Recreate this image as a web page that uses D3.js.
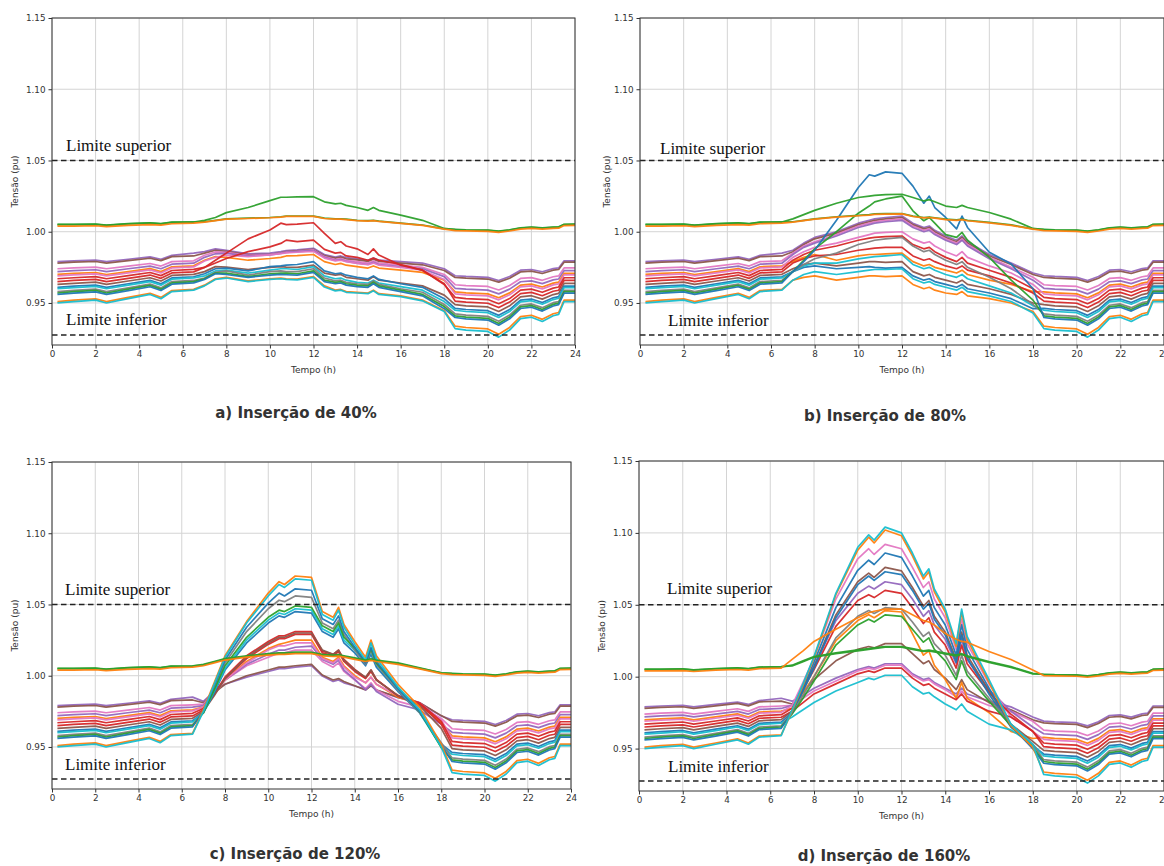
<!DOCTYPE html>
<html>
<head>
<meta charset="utf-8">
<script src="https://cdn.jsdelivr.net/npm/d3@7"></script>
<style>
  body { margin: 0; background: #fff; }
  svg { display: block; }
</style>
</head>
<body>
<svg id="fig" width="1164" height="866"></svg>
<script>
// ---- time axis (hours) ----
const hoursMorning = [0.25, 1, 2, 2.5, 3.5, 4.5, 5, 5.5, 6.5];
const hoursDay = [7, 7.5, 8, 9, 10, 10.5, 10.75, 11.25, 12, 12.5, 13, 13.25, 13.5, 14, 14.5, 14.75, 15, 16, 17, 18];
const hoursEvening = [18.5, 19, 20, 20.5, 21, 21.5, 22, 22.5, 23, 23.25, 23.5, 24];

const xTicks = [0, 2, 4, 6, 8, 10, 12, 14, 16, 18, 20, 22, 24];
const yTicks = [0.95, 1.00, 1.05, 1.10, 1.15];
const limitUpper = 1.05;
const limitLower = 0.9275;

// one colour per bus (16 feeder buses, then 3 buses near the substation)
const busColors = [
  "#9467bd", "#8c564b", "#e377c2", "#9467bd", "#ff7f0e", "#e377c2", "#d62728", "#d62728",
  "#8c564b", "#1f77b4", "#17becf", "#7f7f7f", "#2ca02c", "#1f77b4", "#ff7f0e", "#17becf",
  "#2ca02c", "#2ca02c", "#ff7f0e"
];

// bus voltages before sunrise (same for every PV level)
const morning = [
  [0.979, 0.9796, 0.9801, 0.979, 0.9807, 0.9823, 0.9807, 0.9834, 0.985],
  [0.978, 0.9786, 0.9791, 0.978, 0.9797, 0.9814, 0.9797, 0.9825, 0.983],
  [0.974, 0.9746, 0.9752, 0.974, 0.9759, 0.9777, 0.9759, 0.979, 0.9796],
  [0.972, 0.9727, 0.9733, 0.972, 0.974, 0.9759, 0.974, 0.9772, 0.9779],
  [0.970, 0.9707, 0.9714, 0.970, 0.972, 0.9741, 0.972, 0.9754, 0.9761],
  [0.969, 0.9697, 0.9704, 0.969, 0.9711, 0.9732, 0.9711, 0.9746, 0.9753],
  [0.967, 0.9677, 0.9685, 0.967, 0.9692, 0.9714, 0.9692, 0.9728, 0.9736],
  [0.965, 0.9658, 0.9665, 0.965, 0.9673, 0.9696, 0.9673, 0.9711, 0.9718],
  [0.963, 0.9638, 0.9646, 0.963, 0.9654, 0.9677, 0.9654, 0.9693, 0.9701],
  [0.961, 0.9618, 0.9626, 0.961, 0.9635, 0.9659, 0.9635, 0.9676, 0.9684],
  [0.960, 0.9608, 0.9617, 0.960, 0.9625, 0.965, 0.9625, 0.9667, 0.9676],
  [0.958, 0.9589, 0.9597, 0.958, 0.9606, 0.9632, 0.9606, 0.965, 0.9658],
  [0.957, 0.9579, 0.9588, 0.957, 0.9597, 0.9623, 0.9597, 0.9641, 0.965],
  [0.956, 0.9569, 0.9578, 0.956, 0.9587, 0.9614, 0.9587, 0.9632, 0.9641],
  [0.951, 0.952, 0.9529, 0.951, 0.9539, 0.9568, 0.9539, 0.9587, 0.9596],
  [0.950, 0.951, 0.952, 0.950, 0.953, 0.956, 0.953, 0.958, 0.959],
  [1.005, 1.005, 1.0052, 1.0045, 1.0055, 1.006, 1.0055, 1.0065, 1.0068],
  [1.0052, 1.0052, 1.0054, 1.0047, 1.0057, 1.0062, 1.0057, 1.0067, 1.007],
  [1.004, 1.004, 1.0042, 1.0036, 1.0045, 1.005, 1.0046, 1.0056, 1.006]
];

// bus voltages after sunset (same for every PV level)
const evening = [
  [0.9691, 0.9686, 0.968, 0.9658, 0.9686, 0.973, 0.9735, 0.9719, 0.9741, 0.9746, 0.9796, 0.9796],
  [0.9679, 0.9674, 0.9668, 0.9646, 0.9674, 0.9718, 0.9724, 0.9707, 0.973, 0.9735, 0.9786, 0.9786],
  [0.9628, 0.9622, 0.9616, 0.9591, 0.9622, 0.9672, 0.9678, 0.9659, 0.9684, 0.969, 0.9746, 0.9746],
  [0.9603, 0.9597, 0.959, 0.9564, 0.9597, 0.9649, 0.9655, 0.9636, 0.9662, 0.9668, 0.9727, 0.9727],
  [0.9578, 0.9571, 0.9564, 0.9537, 0.9571, 0.9625, 0.9632, 0.9612, 0.9639, 0.9646, 0.9707, 0.9707],
  [0.9564, 0.9557, 0.955, 0.9522, 0.9557, 0.9613, 0.962, 0.9599, 0.9627, 0.9634, 0.9697, 0.9697],
  [0.9539, 0.9531, 0.9524, 0.9495, 0.9531, 0.959, 0.9597, 0.9575, 0.9604, 0.9612, 0.9677, 0.9677],
  [0.9513, 0.9506, 0.9498, 0.9468, 0.9506, 0.9566, 0.9574, 0.9551, 0.9582, 0.9589, 0.9658, 0.9658],
  [0.9488, 0.948, 0.9472, 0.944, 0.948, 0.9543, 0.9551, 0.9527, 0.9559, 0.9567, 0.9638, 0.9638],
  [0.9462, 0.9454, 0.9446, 0.9413, 0.9454, 0.952, 0.9528, 0.9503, 0.9536, 0.9544, 0.9618, 0.9618],
  [0.9449, 0.944, 0.9432, 0.9398, 0.944, 0.9508, 0.9516, 0.9491, 0.9524, 0.9533, 0.9608, 0.9608],
  [0.9423, 0.9415, 0.9406, 0.9371, 0.9415, 0.9484, 0.9493, 0.9467, 0.9502, 0.951, 0.9589, 0.9589],
  [0.941, 0.9401, 0.9392, 0.9356, 0.9401, 0.9472, 0.9481, 0.9454, 0.949, 0.9499, 0.9579, 0.9579],
  [0.9398, 0.9389, 0.938, 0.9344, 0.9389, 0.9461, 0.947, 0.9443, 0.9479, 0.9488, 0.9569, 0.9569],
  [0.9337, 0.9328, 0.9318, 0.928, 0.9328, 0.9404, 0.9414, 0.9385, 0.9424, 0.9433, 0.952, 0.952],
  [0.932, 0.931, 0.930, 0.926, 0.931, 0.939, 0.940, 0.937, 0.941, 0.942, 0.951, 0.951],
  [1.0015, 1.0012, 1.001, 1.0003, 1.0012, 1.0025, 1.003, 1.0025, 1.003, 1.0032, 1.005, 1.0052],
  [1.0017, 1.0014, 1.0012, 1.0005, 1.0014, 1.0027, 1.0032, 1.0027, 1.0032, 1.0034, 1.0052, 1.0054],
  [1.0008, 1.0006, 1.0003, 0.9996, 1.0005, 1.0018, 1.0023, 1.0018, 1.0023, 1.0025, 1.0043, 1.0045]
];

// daytime voltages, PV insertion 40 %
const day40 = [
  [0.986, 0.988, 0.987, 0.9845, 0.985, 0.986, 0.9868, 0.9872, 0.9884, 0.984, 0.9822, 0.983, 0.9818, 0.981, 0.980, 0.9815, 0.980, 0.979, 0.978, 0.974],
  [0.985, 0.987, 0.9862, 0.9838, 0.9842, 0.9852, 0.986, 0.9865, 0.9876, 0.9832, 0.9815, 0.9822, 0.981, 0.9802, 0.9792, 0.9807, 0.9792, 0.978, 0.9768, 0.9728],
  [0.9835, 0.9858, 0.9855, 0.9835, 0.984, 0.985, 0.9858, 0.9862, 0.9872, 0.9825, 0.9805, 0.9812, 0.980, 0.979, 0.978, 0.9795, 0.978, 0.9765, 0.975, 0.970],
  [0.982, 0.9845, 0.9848, 0.983, 0.9838, 0.9848, 0.9855, 0.986, 0.9868, 0.982, 0.9798, 0.9805, 0.9792, 0.978, 0.977, 0.9785, 0.977, 0.9755, 0.974, 0.9685],
  [0.980, 0.9825, 0.982, 0.980, 0.9812, 0.982, 0.983, 0.9832, 0.984, 0.979, 0.977, 0.9778, 0.9765, 0.9755, 0.9745, 0.976, 0.9745, 0.973, 0.9715, 0.966],
  [0.9795, 0.982, 0.9835, 0.9825, 0.9838, 0.9846, 0.9852, 0.9856, 0.9862, 0.9815, 0.9795, 0.980, 0.979, 0.9778, 0.9768, 0.978, 0.9765, 0.975, 0.973, 0.9665],
  [0.975, 0.980, 0.985, 0.995, 1.0012, 1.006, 1.005, 1.0054, 1.0063, 0.9988, 0.9918, 0.993, 0.990, 0.988, 0.984, 0.988, 0.9836, 0.9765, 0.973, 0.963],
  [0.975, 0.978, 0.9812, 0.986, 0.9894, 0.9918, 0.9941, 0.993, 0.9941, 0.9876, 0.985, 0.9855, 0.983, 0.982, 0.980, 0.9815, 0.980, 0.977, 0.973, 0.9635],
  [0.972, 0.9755, 0.9752, 0.9735, 0.975, 0.9755, 0.9752, 0.975, 0.9765, 0.971, 0.9695, 0.970, 0.968, 0.967, 0.966, 0.9685, 0.966, 0.964, 0.962, 0.9555],
  [0.9705, 0.974, 0.9745, 0.9725, 0.9755, 0.976, 0.9765, 0.977, 0.979, 0.9725, 0.9705, 0.971, 0.9695, 0.968, 0.967, 0.969, 0.9665, 0.9635, 0.961, 0.953],
  [0.969, 0.9725, 0.973, 0.971, 0.973, 0.974, 0.974, 0.9735, 0.9755, 0.969, 0.967, 0.9675, 0.966, 0.9645, 0.964, 0.966, 0.964, 0.9615, 0.959, 0.951],
  [0.9675, 0.9715, 0.9725, 0.9695, 0.972, 0.9725, 0.972, 0.972, 0.974, 0.9675, 0.9655, 0.966, 0.9645, 0.9635, 0.963, 0.9655, 0.963, 0.960, 0.9575, 0.949],
  [0.967, 0.971, 0.971, 0.9685, 0.9705, 0.971, 0.971, 0.9705, 0.9725, 0.966, 0.9645, 0.965, 0.9635, 0.9625, 0.962, 0.9645, 0.962, 0.959, 0.956, 0.9475],
  [0.9665, 0.9705, 0.970, 0.968, 0.9695, 0.970, 0.9698, 0.9695, 0.9715, 0.965, 0.9635, 0.964, 0.9625, 0.9615, 0.961, 0.9635, 0.961, 0.958, 0.955, 0.946],
  [0.9625, 0.967, 0.968, 0.9655, 0.967, 0.9675, 0.967, 0.9668, 0.9685, 0.962, 0.959, 0.9595, 0.958, 0.9575, 0.957, 0.959, 0.9565, 0.955, 0.952, 0.9445],
  [0.962, 0.9665, 0.9675, 0.965, 0.9665, 0.967, 0.9665, 0.9662, 0.968, 0.9612, 0.9585, 0.959, 0.9575, 0.957, 0.9565, 0.9585, 0.956, 0.9545, 0.9515, 0.944],
  [1.008, 1.010, 1.0134, 1.017, 1.0218, 1.0242, 1.0242, 1.0245, 1.0246, 1.021, 1.0195, 1.020, 1.0185, 1.017, 1.015, 1.017, 1.015, 1.0117, 1.008, 1.0023],
  [1.007, 1.008, 1.009, 1.0095, 1.010, 1.0105, 1.011, 1.011, 1.011, 1.0095, 1.009, 1.009, 1.0088, 1.008, 1.0078, 1.008, 1.0075, 1.006, 1.0047, 1.002],
  [1.0068, 1.0078, 1.0088, 1.0093, 1.0098, 1.0103, 1.0108, 1.0108, 1.0108, 1.0093, 1.0088, 1.0088, 1.0085, 1.0078, 1.0075, 1.0078, 1.0072, 1.0058, 1.0045, 1.0018]
];

// daytime voltages, PV insertion 80 %
const day80 = [
  [0.987, 0.992, 0.996, 1.000, 1.006, 1.008, 1.009, 1.010, 1.011, 1.006, 1.003, 1.004, 1.001, 0.997, 0.994, 0.997, 0.993, 0.984, 0.978, 0.971],
  [0.986, 0.991, 0.995, 0.999, 1.005, 1.007, 1.008, 1.009, 1.010, 1.005, 1.002, 1.003, 1.000, 0.996, 0.993, 0.996, 0.992, 0.983, 0.977, 0.970],
  [0.985, 0.990, 0.993, 0.998, 1.004, 1.006, 1.007, 1.008, 1.009, 1.004, 1.001, 1.002, 0.999, 0.995, 0.992, 0.995, 0.991, 0.982, 0.975, 0.968],
  [0.984, 0.989, 0.992, 0.997, 1.003, 1.005, 1.006, 1.007, 1.008, 1.003, 1.000, 1.001, 0.998, 0.994, 0.991, 0.994, 0.990, 0.981, 0.974, 0.966],
  [0.979, 0.982, 0.984, 0.980, 0.983, 0.984, 0.984, 0.9845, 0.985, 0.979, 0.976, 0.977, 0.975, 0.973, 0.971, 0.973, 0.970, 0.966, 0.963, 0.958],
  [0.982, 0.986, 0.989, 0.992, 0.996, 0.998, 0.999, 0.9995, 1.000, 0.995, 0.992, 0.993, 0.990, 0.986, 0.983, 0.986, 0.982, 0.976, 0.971, 0.963],
  [0.980, 0.984, 0.987, 0.990, 0.994, 0.9955, 0.996, 0.9965, 0.997, 0.991, 0.988, 0.989, 0.986, 0.982, 0.979, 0.982, 0.978, 0.973, 0.968, 0.960],
  [0.978, 0.981, 0.983, 0.984, 0.987, 0.988, 0.9885, 0.989, 0.989, 0.983, 0.980, 0.981, 0.979, 0.976, 0.974, 0.976, 0.973, 0.969, 0.964, 0.957],
  [0.974, 0.977, 0.978, 0.976, 0.978, 0.979, 0.979, 0.9785, 0.979, 0.972, 0.969, 0.970, 0.968, 0.966, 0.964, 0.966, 0.963, 0.960, 0.956, 0.950],
  [0.972, 0.975, 0.976, 0.974, 0.975, 0.9755, 0.975, 0.9745, 0.975, 0.969, 0.966, 0.967, 0.965, 0.963, 0.961, 0.963, 0.960, 0.957, 0.953, 0.946],
  [0.972, 0.976, 0.978, 0.978, 0.981, 0.982, 0.9825, 0.983, 0.984, 0.977, 0.974, 0.975, 0.973, 0.970, 0.968, 0.970, 0.967, 0.962, 0.957, 0.948],
  [0.972, 0.977, 0.981, 0.985, 0.991, 0.993, 0.994, 0.995, 0.996, 0.990, 0.986, 0.987, 0.984, 0.980, 0.977, 0.979, 0.975, 0.968, 0.960, 0.949],
  [0.972, 0.980, 0.988, 1.000, 1.013, 1.018, 1.021, 1.023, 1.025, 1.0147, 1.0077, 1.010, 1.006, 0.998, 0.996, 0.9995, 0.994, 0.982, 0.966, 0.952],
  [0.972, 0.979, 0.987, 1.008, 1.031, 1.040, 1.039, 1.042, 1.041, 1.032, 1.020, 1.025, 1.017, 1.010, 1.002, 1.011, 1.003, 0.9856, 0.9774, 0.960],
  [0.966, 0.968, 0.969, 0.966, 0.968, 0.969, 0.969, 0.9685, 0.969, 0.963, 0.960, 0.961, 0.959, 0.957, 0.956, 0.958, 0.955, 0.953, 0.950, 0.944],
  [0.966, 0.970, 0.972, 0.970, 0.972, 0.973, 0.9735, 0.9735, 0.974, 0.967, 0.964, 0.965, 0.963, 0.961, 0.959, 0.961, 0.958, 0.955, 0.951, 0.943],
  [1.009, 1.012, 1.015, 1.020, 1.024, 1.025, 1.0255, 1.026, 1.0263, 1.024, 1.0216, 1.0225, 1.021, 1.018, 1.017, 1.0185, 1.017, 1.0135, 1.0088, 1.0023],
  [1.007, 1.008, 1.009, 1.0105, 1.0115, 1.012, 1.0125, 1.0127, 1.0128, 1.011, 1.010, 1.0103, 1.0098, 1.0088, 1.0083, 1.0088, 1.008, 1.0065, 1.0048, 1.002],
  [1.0068, 1.0078, 1.0088, 1.0102, 1.0112, 1.0117, 1.0122, 1.0124, 1.0125, 1.0107, 1.0097, 1.010, 1.0095, 1.0085, 1.008, 1.0085, 1.0077, 1.0062, 1.0045, 1.0018]
];

// daytime voltages, PV insertion 120 %
const day120 = [
  [0.982, 0.989, 0.994, 0.999, 1.003, 1.005, 1.005, 1.006, 1.007, 0.9998, 0.996, 0.997, 0.995, 0.9928, 0.9904, 0.993, 0.990, 0.9846, 0.981, 0.9717],
  [0.981, 0.988, 0.994, 1.000, 1.004, 1.006, 1.006, 1.007, 1.008, 1.0005, 0.997, 0.998, 0.996, 0.993, 0.990, 0.993, 0.990, 0.985, 0.981, 0.972],
  [0.980, 0.989, 0.997, 1.007, 1.013, 1.016, 1.016, 1.018, 1.018, 1.010, 1.006, 1.009, 1.003, 0.997, 0.991, 0.995, 0.990, 0.982, 0.978, 0.970],
  [0.979, 0.988, 0.997, 1.008, 1.015, 1.018, 1.018, 1.020, 1.0208, 1.0114, 1.008, 1.011, 1.004, 0.9974, 0.990, 0.994, 0.989, 0.980, 0.976, 0.966],
  [0.978, 0.987, 0.997, 1.010, 1.019, 1.022, 1.023, 1.025, 1.025, 1.013, 1.010, 1.013, 1.007, 1.000, 0.995, 0.999, 0.994, 0.985, 0.980, 0.967],
  [0.978, 0.987, 0.997, 1.009, 1.018, 1.021, 1.021, 1.023, 1.023, 1.012, 1.009, 1.012, 1.006, 0.999, 0.995, 0.999, 0.994, 0.986, 0.981, 0.969],
  [0.977, 0.987, 0.998, 1.012, 1.022, 1.026, 1.026, 1.029, 1.029, 1.016, 1.014, 1.017, 1.010, 1.003, 0.998, 1.003, 0.997, 0.986, 0.981, 0.968],
  [0.976, 0.987, 0.999, 1.014, 1.024, 1.028, 1.028, 1.031, 1.031, 1.0173, 1.015, 1.018, 1.0114, 1.0044, 0.9986, 1.004, 0.9974, 0.9857, 0.980, 0.966],
  [0.975, 0.986, 0.998, 1.013, 1.023, 1.027, 1.027, 1.030, 1.030, 1.018, 1.015, 1.018, 1.011, 1.004, 0.999, 1.004, 0.997, 0.986, 0.979, 0.963],
  [0.974, 0.988, 1.004, 1.023, 1.037, 1.042, 1.041, 1.045, 1.044, 1.031, 1.027, 1.033, 1.023, 1.016, 1.007, 1.015, 1.006, 0.989, 0.974, 0.952],
  [0.974, 0.989, 1.005, 1.025, 1.039, 1.044, 1.043, 1.047, 1.046, 1.033, 1.029, 1.035, 1.025, 1.018, 1.009, 1.017, 1.008, 0.990, 0.974, 0.950],
  [0.974, 0.991, 1.009, 1.031, 1.047, 1.053, 1.052, 1.056, 1.055, 1.037, 1.033, 1.039, 1.029, 1.018, 1.008, 1.018, 1.008, 0.990, 0.974, 0.953],
  [0.974, 0.990, 1.007, 1.027, 1.041, 1.046, 1.045, 1.049, 1.048, 1.035, 1.031, 1.037, 1.027, 1.0196, 1.010, 1.019, 1.009, 0.9916, 0.975, 0.9495],
  [0.975, 0.993, 1.011, 1.034, 1.051, 1.058, 1.056, 1.061, 1.060, 1.040, 1.036, 1.042, 1.031, 1.020, 1.009, 1.020, 1.010, 0.991, 0.975, 0.951],
  [0.976, 0.995, 1.014, 1.038, 1.058, 1.066, 1.064, 1.070, 1.069, 1.045, 1.041, 1.048, 1.036, 1.024, 1.013, 1.025, 1.014, 0.994, 0.978, 0.952],
  [0.975, 0.994, 1.013, 1.037, 1.056, 1.064, 1.062, 1.068, 1.067, 1.043, 1.039, 1.046, 1.034, 1.022, 1.011, 1.023, 1.012, 0.992, 0.976, 0.950],
  [1.008, 1.010, 1.012, 1.014, 1.0155, 1.016, 1.016, 1.0165, 1.0165, 1.015, 1.0145, 1.0148, 1.014, 1.0125, 1.011, 1.0118, 1.011, 1.009, 1.0056, 1.002],
  [1.0075, 1.0095, 1.0115, 1.0135, 1.015, 1.0155, 1.0155, 1.016, 1.016, 1.0145, 1.014, 1.0143, 1.0135, 1.012, 1.0105, 1.0113, 1.0105, 1.0085, 1.0052, 1.002],
  [1.007, 1.009, 1.011, 1.013, 1.0145, 1.015, 1.015, 1.0155, 1.0155, 1.014, 1.0135, 1.0138, 1.013, 1.0115, 1.010, 1.0108, 1.010, 1.008, 1.0048, 1.0015]
];

// daytime voltages, PV insertion 160 %
const day160 = [
  [0.983, 0.987, 0.992, 0.999, 1.005, 1.007, 1.006, 1.009, 1.009, 1.002, 0.998, 0.999, 0.996, 0.992, 0.988, 0.992, 0.988, 0.983, 0.979, 0.972],
  [0.981, 0.989, 0.998, 1.011, 1.019, 1.021, 1.020, 1.023, 1.023, 1.016, 1.009, 1.011, 1.005, 0.999, 0.991, 0.998, 0.991, 0.982, 0.977, 0.970],
  [0.980, 0.985, 0.990, 0.997, 1.004, 1.006, 1.005, 1.008, 1.008, 1.001, 0.997, 0.998, 0.995, 0.991, 0.986, 0.990, 0.986, 0.980, 0.976, 0.969],
  [0.980, 0.993, 1.007, 1.039, 1.058, 1.063, 1.061, 1.066, 1.064, 1.054, 1.042, 1.046, 1.036, 1.026, 1.009, 1.026, 1.012, 0.991, 0.976, 0.965],
  [0.978, 0.989, 1.000, 1.025, 1.039, 1.043, 1.041, 1.046, 1.045, 1.030, 1.015, 1.018, 1.008, 0.998, 0.985, 0.996, 0.985, 0.975, 0.962, 0.957],
  [0.980, 0.996, 1.013, 1.054, 1.082, 1.089, 1.085, 1.092, 1.089, 1.076, 1.062, 1.066, 1.054, 1.041, 1.019, 1.040, 1.023, 0.995, 0.972, 0.962],
  [0.978, 0.991, 1.005, 1.035, 1.053, 1.057, 1.055, 1.060, 1.058, 1.048, 1.037, 1.041, 1.031, 1.022, 1.006, 1.022, 1.009, 0.989, 0.974, 0.962],
  [0.976, 0.982, 0.988, 0.995, 1.002, 1.004, 1.003, 1.006, 1.006, 0.999, 0.994, 0.995, 0.992, 0.988, 0.984, 0.988, 0.983, 0.976, 0.972, 0.962],
  [0.976, 0.991, 1.007, 1.043, 1.066, 1.072, 1.069, 1.076, 1.0736, 1.062, 1.049, 1.053, 1.042, 1.031, 1.012, 1.031, 1.015, 0.990, 0.967, 0.955],
  [0.975, 0.990, 1.006, 1.041, 1.064, 1.070, 1.067, 1.073, 1.071, 1.060, 1.047, 1.051, 1.040, 1.029, 1.010, 1.029, 1.013, 0.988, 0.965, 0.952],
  [0.972, 0.977, 0.982, 0.990, 0.996, 0.999, 0.998, 1.001, 1.001, 0.993, 0.988, 0.989, 0.986, 0.981, 0.977, 0.981, 0.976, 0.967, 0.963, 0.953],
  [0.975, 0.987, 1.000, 1.027, 1.042, 1.046, 1.044, 1.048, 1.047, 1.038, 1.028, 1.031, 1.023, 1.015, 1.001, 1.015, 1.004, 0.985, 0.967, 0.953],
  [0.974, 0.985, 0.997, 1.022, 1.036, 1.040, 1.038, 1.043, 1.042, 1.033, 1.024, 1.027, 1.019, 1.011, 0.998, 1.011, 1.001, 0.983, 0.966, 0.951],
  [0.975, 0.992, 1.010, 1.048, 1.074, 1.081, 1.078, 1.086, 1.083, 1.070, 1.056, 1.060, 1.048, 1.036, 1.015, 1.036, 1.019, 0.992, 0.966, 0.950],
  [0.976, 0.994, 1.013, 1.057, 1.088, 1.097, 1.093, 1.102, 1.098, 1.084, 1.068, 1.073, 1.059, 1.045, 1.021, 1.045, 1.026, 0.996, 0.966, 0.951],
  [0.977, 0.995, 1.014, 1.058, 1.090, 1.0986, 1.095, 1.104, 1.100, 1.086, 1.070, 1.075, 1.061, 1.047, 1.023, 1.047, 1.028, 0.998, 0.967, 0.953],
  [1.008, 1.011, 1.014, 1.0165, 1.0187, 1.0195, 1.020, 1.021, 1.021, 1.0195, 1.018, 1.0185, 1.0178, 1.0164, 1.015, 1.016, 1.0145, 1.0105, 1.007, 1.0023],
  [1.0075, 1.0105, 1.0135, 1.016, 1.018, 1.019, 1.0195, 1.0205, 1.0205, 1.019, 1.0175, 1.018, 1.0172, 1.0158, 1.0145, 1.0155, 1.014, 1.010, 1.0065, 1.002],
  [1.012, 1.018, 1.0245, 1.033, 1.041, 1.0445, 1.0455, 1.047, 1.047, 1.043, 1.039, 1.038, 1.036, 1.030, 1.026, 1.0245, 1.024, 1.0175, 1.012, 1.0047]
];

const panelTitles = ["a) Inserção de 40%", "b) Inserção de 80%", "c) Inserção de 120%", "d) Inserção de 160%"];
const panelDays = [day40, day80, day120, day160];

// page placement of each subplot
const frames = [
  { left: 52,  right: 575,  top: 18,  bottom: 345, titleX: 296, titleY: 418, ylabX: 18,  supX: 66,  supY: 151, infX: 66,  infY: 325 },
  { left: 640, right: 1164, top: 18,  bottom: 345, titleX: 885, titleY: 421, ylabX: 610, supX: 660, supY: 154, infX: 668, infY: 326 },
  { left: 52,  right: 571,  top: 462, bottom: 789, titleX: 295, titleY: 859, ylabX: 18,  supX: 65,  supY: 595, infX: 65,  infY: 770 },
  { left: 639, right: 1164, top: 461, bottom: 791, titleX: 884, titleY: 861, ylabX: 605, supX: 667, supY: 594, infX: 668, infY: 772 }
];

const hours = hoursMorning.concat(hoursDay, hoursEvening);
const svg = d3.select("#fig");
const tickFont = "'DejaVu Sans', sans-serif";

frames.forEach((f, p) => {
  const x = d3.scaleLinear().domain([0, 24]).range([f.left, f.right]);
  const y = d3.scaleLinear().domain([0.9205, 1.15]).range([f.bottom, f.top]);
  const g = svg.append("g");

  const clipId = "clip" + p;
  g.append("clipPath").attr("id", clipId).append("rect")
    .attr("x", f.left).attr("y", f.top)
    .attr("width", f.right - f.left).attr("height", f.bottom - f.top);

  // grid
  g.append("g").selectAll("line").data(xTicks).join("line")
    .attr("x1", d => x(d)).attr("x2", d => x(d))
    .attr("y1", f.top).attr("y2", f.bottom)
    .attr("stroke", "#d4d4d4").attr("stroke-width", 1);
  g.append("g").selectAll("line").data(yTicks).join("line")
    .attr("x1", f.left).attr("x2", f.right)
    .attr("y1", d => y(d)).attr("y2", d => y(d))
    .attr("stroke", "#d4d4d4").attr("stroke-width", 1);

  // bus voltage curves
  const day = panelDays[p];
  const series = morning.map((m, i) => m.concat(day[i], evening[i]).map((v, k) => [hours[k], v]));
  const line = d3.line().x(d => x(d[0])).y(d => y(d[1]));
  g.append("g").attr("clip-path", `url(#${clipId})`)
    .selectAll("path").data(series).join("path")
    .attr("d", line)
    .attr("fill", "none")
    .attr("stroke", (d, i) => busColors[i])
    .attr("stroke-width", 1.7)
    .attr("stroke-linejoin", "round")
    .attr("stroke-opacity", 0.95);

  // voltage limits
  [limitUpper, limitLower].forEach(v => {
    g.append("line")
      .attr("x1", f.left).attr("x2", f.right)
      .attr("y1", y(v)).attr("y2", y(v))
      .attr("stroke", "#222").attr("stroke-width", 1.5)
      .attr("stroke-dasharray", "5.5,3.5");
  });

  // frame
  g.append("rect")
    .attr("x", f.left).attr("y", f.top)
    .attr("width", f.right - f.left).attr("height", f.bottom - f.top)
    .attr("fill", "none").attr("stroke", "#333").attr("stroke-width", 1);

  // axes
  const ax = g.append("g").attr("transform", `translate(0,${f.bottom})`)
    .call(d3.axisBottom(x).tickValues(xTicks).tickSize(3.5).tickPadding(2.5).tickFormat(d3.format("d")));
  const ay = g.append("g").attr("transform", `translate(${f.left},0)`)
    .call(d3.axisLeft(y).tickValues(yTicks).tickSize(3.5).tickPadding(3).tickFormat(d3.format(".2f")));
  [ax, ay].forEach(a => {
    a.select(".domain").remove();
    a.selectAll(".tick line").attr("stroke", "#333");
    a.selectAll("text").attr("font-family", tickFont).attr("font-size", 8.8).attr("fill", "#333");
  });

  // axis titles
  g.append("text")
    .attr("x", (f.left + f.right) / 2).attr("y", f.bottom + 28)
    .attr("text-anchor", "middle")
    .attr("font-family", tickFont).attr("font-size", 9).attr("fill", "#333")
    .text("Tempo (h)");
  g.append("text")
    .attr("transform", `translate(${f.ylabX},${(f.top + f.bottom) / 2}) rotate(-90)`)
    .attr("text-anchor", "middle")
    .attr("font-family", tickFont).attr("font-size", 9).attr("fill", "#333")
    .text("Tensão (pu)");

  // limit annotations
  g.append("text").attr("x", f.supX).attr("y", f.supY)
    .attr("font-family", "'Liberation Serif', 'Times New Roman', serif")
    .attr("font-size", 17).attr("fill", "#111")
    .text("Limite superior");
  g.append("text").attr("x", f.infX).attr("y", f.infY)
    .attr("font-family", "'Liberation Serif', 'Times New Roman', serif")
    .attr("font-size", 17).attr("fill", "#111")
    .text("Limite inferior");

  // subplot caption
  g.append("text").attr("x", f.titleX).attr("y", f.titleY)
    .attr("text-anchor", "middle")
    .attr("font-family", tickFont).attr("font-weight", "bold")
    .attr("font-size", 15).attr("fill", "#333")
    .text(panelTitles[p]);
});
</script>
</body>
</html>
